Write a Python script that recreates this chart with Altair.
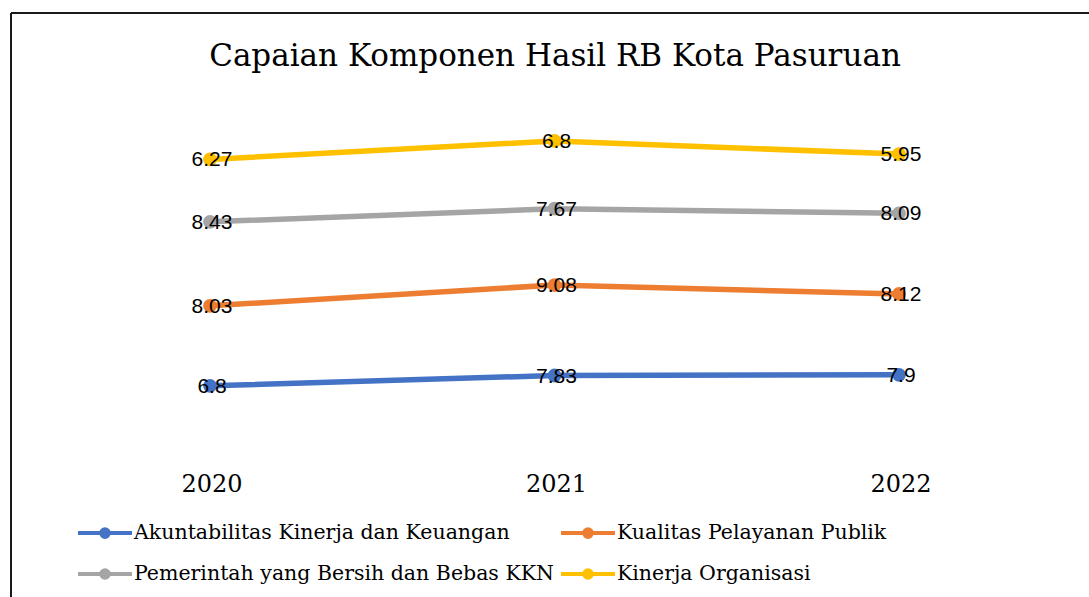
import altair as alt
import pandas as pd

years = [2020, 2021, 2022]
series = [
    "Akuntabilitas Kinerja dan Keuangan",
    "Kualitas Pelayanan Publik",
    "Pemerintah yang Bersih dan Bebas KKN",
    "Kinerja Organisasi",
]
akuntabilitas = [6.8, 7.83, 7.9]
kualitas = [8.03, 9.08, 8.12]
pemerintah = [8.43, 7.67, 8.09]
kinerja = [6.27, 6.8, 5.95]
colors = ["#4472C4", "#ED7D31", "#A5A5A5", "#FFC000"]
title_text = "Capaian Komponen Hasil RB Kota Pasuruan"

rows = []
for si, (name, vals) in enumerate(zip(series, [akuntabilitas, kualitas, pemerintah, kinerja])):
    for y, v in zip(years, vals):
        rows.append({"year": y, "series": name, "order": si, "value": v})
df = pd.DataFrame(rows)

PAD_L, PAD_T = 11, 13
W, H = 1089 - PAD_L, 597 - PAD_T
x_scale = alt.Scale(domain=[2020, 2022], range=[210 - PAD_L, 899 - PAD_L])
zero_px = 453.5 - PAD_T
y_scale = alt.Scale(domain=[0, 35], range=[zero_px, zero_px - 35 * 9.96], nice=False, zero=False)
color_scale = alt.Scale(domain=series, range=colors)

base = alt.Chart(df).transform_stack(
    stack="value", groupby=["year"], as_=["y0", "y1"], sort=[alt.SortField("order")]
)

sym = "M-1,0L1,0M0.14,0A0.14,0.14 0 1,1 -0.14,0A0.14,0.14 0 1,1 0.14,0Z"

lines = base.mark_line(strokeWidth=5.5).encode(
    x=alt.X("year:Q", scale=x_scale, axis=None),
    y=alt.Y("y1:Q", scale=y_scale, axis=None),
    color=alt.Color(
        "series:N",
        scale=color_scale,
        legend=alt.Legend(
            title=None,
            orient="none",
            legendX=76 - PAD_L,
            legendY=504 - PAD_T,
            columns=2,
            direction="horizontal",
            symbolType=sym,
            symbolSize=2916,
            symbolStrokeWidth=4,
            labelFont="DejaVu Serif",
            labelFontSize=20.5,
            labelColor="#000000",
            labelOffset=0,
            columnPadding=-1,
            rowPadding=0,
            labelLimit=700,
        ),
    ),
    detail="series:N",
)

points = base.mark_point(filled=True, size=190, opacity=1).encode(
    x=alt.X("year:Q", scale=x_scale),
    y=alt.Y("y1:Q", scale=y_scale),
    color=alt.Color("series:N", scale=color_scale, legend=None),
)

labels = base.mark_text(
    font="Liberation Sans", fontSize=21, color="#000000", align="center", baseline="middle", dx=2, dy=1
).encode(
    x=alt.X("year:Q", scale=x_scale),
    y=alt.Y("y1:Q", scale=y_scale),
    text=alt.Text("value:Q"),
)

year_df = pd.DataFrame({"year": years})
year_labels = alt.Chart(year_df).mark_text(
    font="DejaVu Serif", fontSize=24, color="#000000", align="center", baseline="alphabetic", dx=2
).encode(
    x=alt.X("year:Q", scale=x_scale),
    y=alt.value(492 - PAD_T),
    text=alt.Text("year:N"),
)

title_df = pd.DataFrame({"t": [title_text]})
title = alt.Chart(title_df).mark_text(
    font="DejaVu Serif", fontSize=31, color="#000000", align="center", baseline="alphabetic"
).encode(
    x=alt.value(555 - PAD_L),
    y=alt.value(66 - PAD_T),
    text=alt.Text("t:N"),
)

border_top = alt.Chart(title_df).mark_rule(color="#1a1a1a", strokeWidth=2).encode(
    x=alt.value(0), x2=alt.value(W + 5), y=alt.value(0)
)
border_left = alt.Chart(title_df).mark_rule(color="#1a1a1a", strokeWidth=2).encode(
    x=alt.value(0), y=alt.value(0), y2=alt.value(H + 5)
)

chart = (
    alt.layer(border_top, border_left, lines, points, labels, year_labels, title)
    .properties(
        width=W,
        height=H,
        autosize=alt.AutoSizeParams(type="none"),
        padding={"left": PAD_L, "top": PAD_T, "right": 0, "bottom": 0},
        background="white",
    )
    .configure_view(strokeWidth=0)
)

chart.save("out.html", embed_options={"renderer": "svg", "actions": False})
